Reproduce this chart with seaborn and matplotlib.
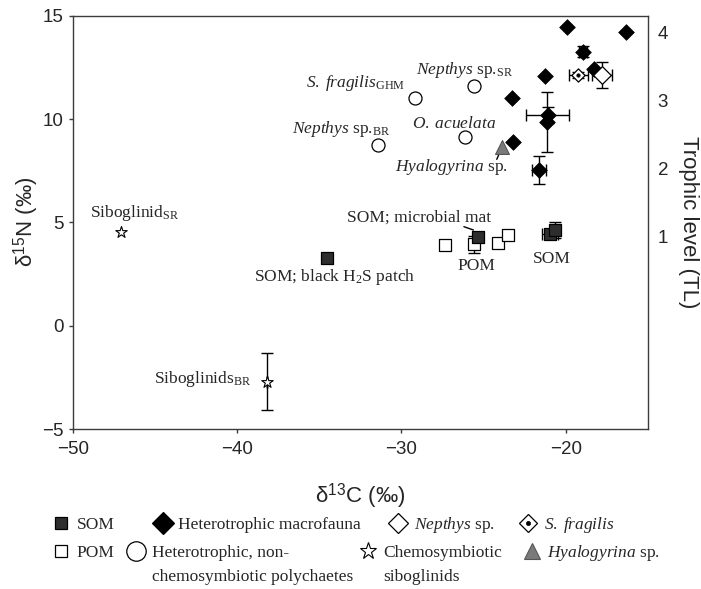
import matplotlib
matplotlib.use("Agg")
import matplotlib.pyplot as plt
from matplotlib.lines import Line2D
import seaborn as sns
import numpy as np

# ---- data (delta13C, delta15N, errors) ----
som_c = [-34.55, -25.36, -20.97, -20.67]
som_n = [3.29, 4.31, 4.42, 4.63]
som_cerr = [0, 0, 0.5, 0.2]
som_nerr = [0, 0, 0.2, 0.4]

pom_c = [-27.33, -25.56, -24.10, -23.54]
pom_n = [3.90, 3.94, 4.02, 4.39]
pom_cerr = [0, 0.3, 0, 0]
pom_nerr = [0, 0.4, 0, 0]

fauna_c = [-19.9, -16.33, -18.95, -21.27, -18.29, -23.3, -21.1, -21.15, -23.24, -21.62]
fauna_n = [14.44, 14.22, 13.26, 12.08, 12.42, 11.03, 10.2, 9.85, 8.9, 7.53]
fauna_cerr = [0, 0, 0.25, 0, 0, 0, 1.3, 0, 0, 0.43]
fauna_nerr = [0, 0, 0.25, 0, 0, 0, 0.4, 1.45, 0, 0.69]

poly_c = [-29.15, -25.58, -31.44, -26.12]
poly_n = [11.03, 11.61, 8.74, 9.14]

sibo_c = [-47.09, -38.18]
sibo_n = [4.52, -2.71]
sibo_nerr = [0, 1.39]

hyal_c = [-23.86]
hyal_n = [8.66]

neph_c = [-17.8]
neph_n = [12.13]
neph_cerr = [0.6]
neph_nerr = [0.65]

sfrag_c = [-19.25]
sfrag_n = [12.13]
sfrag_cerr = [0.58]
sfrag_nerr = [0.15]

tl_levels = [1, 2, 3, 4]
tl_pos = [4.3, 7.6, 10.9, 14.2]

x_ticks = [-50, -40, -30, -20]
y_ticks = [-5, 0, 5, 10, 15]

# ---- style ----
sns.set_style("ticks")
plt.rcParams['font.family'] = ['Liberation Sans', 'DejaVu Sans']
plt.rcParams['mathtext.fontset'] = 'custom'
plt.rcParams['mathtext.rm'] = 'Liberation Serif'
plt.rcParams['mathtext.it'] = 'Liberation Serif:italic'
plt.rcParams['mathtext.bf'] = 'Liberation Serif:bold'
plt.rcParams['mathtext.sf'] = 'Liberation Sans'

SERIF = ['Liberation Serif', 'DejaVu Serif']
LAB_FS = 12.5
SPINE = '#3c3c3c'
SOM_COL = '#2e2e2e'

W, H = 701, 589
fig = plt.figure(figsize=(W / 100, H / 100), dpi=100)
ax = fig.add_axes([72.7 / W, 1 - 429 / H, (648 - 72.7) / W, (429 - 15.7) / H])


def err(axis, xs, ys, xe=None, ye=None):
    axis.errorbar(xs, ys, xerr=xe, yerr=ye, fmt='none', ecolor='k',
                  elinewidth=1, capsize=4, capthick=1, zorder=2)


def only_err(xs, ys, xe, ye):
    keep = [i for i in range(len(xs)) if xe[i] > 0 or ye[i] > 0]
    return ([xs[i] for i in keep], [ys[i] for i in keep],
            [xe[i] for i in keep], [ye[i] for i in keep])


for xs, ys, xe, ye in [(som_c, som_n, som_cerr, som_nerr),
                       (pom_c, pom_n, pom_cerr, pom_nerr),
                       (fauna_c, fauna_n, fauna_cerr, fauna_nerr),
                       (neph_c, neph_n, neph_cerr, neph_nerr),
                       (sfrag_c, sfrag_n, sfrag_cerr, sfrag_nerr),
                       (sibo_c, sibo_n, [0, 0], sibo_nerr)]:
    a, b, c, d = only_err(xs, ys, xe, ye)
    if a:
        err(ax, a, b, c, d)

sns.scatterplot(x=pom_c, y=pom_n, marker='s', s=81, color='white',
                edgecolor='k', linewidth=0.9, ax=ax, zorder=3)
sns.scatterplot(x=som_c, y=som_n, marker='s', s=81, color=SOM_COL,
                edgecolor='k', linewidth=0.9, ax=ax, zorder=3)
sns.scatterplot(x=fauna_c, y=fauna_n, marker='D', s=64, color='black',
                edgecolor='k', linewidth=0.5, ax=ax, zorder=3)
sns.scatterplot(x=poly_c, y=poly_n, marker='o', s=88, color='white',
                edgecolor='k', linewidth=0.9, ax=ax, zorder=3)
sns.scatterplot(x=sibo_c, y=sibo_n, marker='*', s=75, color='white',
                edgecolor='k', linewidth=0.8, ax=ax, zorder=3)
sns.scatterplot(x=hyal_c, y=hyal_n, marker='^', s=100, color='#7a7a7a',
                edgecolor='#555555', linewidth=0.8, ax=ax, zorder=3)
sns.scatterplot(x=neph_c, y=neph_n, marker='D', s=81, color='white',
                edgecolor='k', linewidth=0.9, ax=ax, zorder=3)
sns.scatterplot(x=sfrag_c, y=sfrag_n, marker='D', s=45, color='white',
                edgecolor='k', linewidth=0.9, ax=ax, zorder=3)
sns.scatterplot(x=sfrag_c, y=sfrag_n, marker='o', s=6, color='black',
                edgecolor='k', linewidth=0.5, ax=ax, zorder=4)

# point labels
labels = [
    (r"$\mathit{S.\;fragilis}_{\mathrm{GHM}}$", -29.76, 11.56, 'right'),
    (r"$\mathit{Nepthys}$ sp.$_{\mathrm{SR}}$", -29.09, 12.18, 'left'),
    (r"$\mathit{Nepthys}$ sp.$_{\mathrm{BR}}$", -30.65, 9.34, 'right'),
    (r"$\mathit{O.\;acuelata}$", -26.8, 9.55, 'center'),
    (r"$\mathit{Hyalogyrina}$ sp.", -26.95, 7.5, 'center'),
    ("SOM; microbial mat", -28.92, 5.03, 'center'),
    ("POM", -25.41, 2.69, 'center'),
    ("SOM", -20.83, 3.02, 'center'),
    (r"SOM; black H$_2$S patch", -29.14, 2.18, 'right'),
    (r"Siboglinid$_{\mathrm{SR}}$", -46.25, 5.24, 'center'),
    (r"Siboglinids$_{\mathrm{BR}}$", -39.13, -2.79, 'right'),
]
for txt, x, y, ha in labels:
    ax.text(x, y, txt, ha=ha, va='baseline', fontsize=LAB_FS, family=SERIF,
            zorder=5)

# leader lines
ax.plot([-24.2, -24.06], [8.05, 8.31], color='k', lw=1, zorder=2)
ax.plot([-26.2, -25.62], [4.79, 4.63], color='k', lw=1, zorder=2)

ax.set_xlim(-50, -15)
ax.set_ylim(-5, 15)
ax.set_xticks(x_ticks)
ax.set_yticks(y_ticks)
ax.tick_params(axis='both', direction='out', length=4.3 * 0.72, width=1,
               color=SPINE, labelsize=13.5)
ax.tick_params(axis='x', pad=5.5)
ax.tick_params(axis='y', pad=3.6)
for sp in ax.spines.values():
    sp.set_visible(True)
    sp.set_color(SPINE)
    sp.set_linewidth(1.0)

ax.set_xlabel(r"δ$^{\mathsf{13}}$C (‰)", fontsize=16)
ax.set_ylabel(r"δ$^{\mathsf{15}}$N (‰)", fontsize=16, va='center')
ax.xaxis.set_label_coords(0.5, -0.126)
ax.yaxis.set_label_coords(-0.081, 0.5)

# trophic level axis
ax2 = ax.twinx()
ax2.set_ylim(ax.get_ylim())
ax2.set_yticks(tl_pos)
ax2.set_yticklabels([str(t) for t in tl_levels])
ax2.tick_params(axis='y', length=0, pad=7, labelsize=13.5)
for sp in ax2.spines.values():
    sp.set_visible(False)
ax2.set_ylabel("Trophic level (TL)", fontsize=16, rotation=270,
               va='center', ha='center')
ax2.yaxis.set_label_coords((688 - 72.7) / 575.3, 0.5)

# ---- legend (one entry each so spacing follows the original) ----
def mk(marker, ms, fc, ec='k', mew=0.9):
    return Line2D([], [], ls='none', marker=marker, ms=ms, mfc=fc, mec=ec, mew=mew)


h_som = mk('s', 8, SOM_COL)
h_pom = mk('s', 8, 'white')
h_fauna = mk('D', 11, 'black')
h_poly = mk('o', 14, 'white')
h_neph = mk('D', 10, 'white')
h_sfrag = (mk('D', 9.2, 'white'), mk('o', 3, 'black', mew=0.5))
h_sibo = mk('*', 12.6, 'white', mew=0.8)
h_hyal = mk('^', 12, '#7a7a7a', ec='#555555', mew=0.8)

legend_rows = [
    (525, [(h_som, "SOM", 61.3),
           (h_fauna, "Heterotrophic macrofauna", 162.5),
           (h_neph, r"$\mathit{Nepthys}$ sp.", 398.3),
           (h_sfrag, r"$\mathit{S.\;fragilis}$", 528.3)]),
    (553.3, [(h_pom, "POM", 61),
             (h_poly, "Heterotrophic, non-", 136),
             (h_sibo, "Chemosymbiotic", 368),
             (h_hyal, r"$\mathit{Hyalogyrina}$ sp.", 531.7)]),
]
hl = 1.0
half = hl * LAB_FS / 0.72 / 2
legs = {}
for ypx, entries in legend_rows:
    for h, lab, cx in entries:
        lg = fig.legend([h], [lab], loc='center left',
                        bbox_to_anchor=((cx - half) / W, 1 - ypx / H),
                        frameon=False, borderpad=0, borderaxespad=0,
                        handlelength=hl, handletextpad=0.4,
                        prop={'family': SERIF, 'size': LAB_FS})
        legs[lab] = lg

fig.canvas.draw()
rend = fig.canvas.get_renderer()
for lab, cont in [("Heterotrophic, non-", "chemosymbiotic polychaetes"),
                  ("Chemosymbiotic", "siboglinids")]:
    bb = legs[lab].get_texts()[0].get_window_extent(rend)
    fig.text(bb.x0 / W, 1 - 576.7 / H, cont, ha='left', va='center',
             family=SERIF, fontsize=LAB_FS)

fig.savefig("out.png", dpi=100, facecolor='white')
